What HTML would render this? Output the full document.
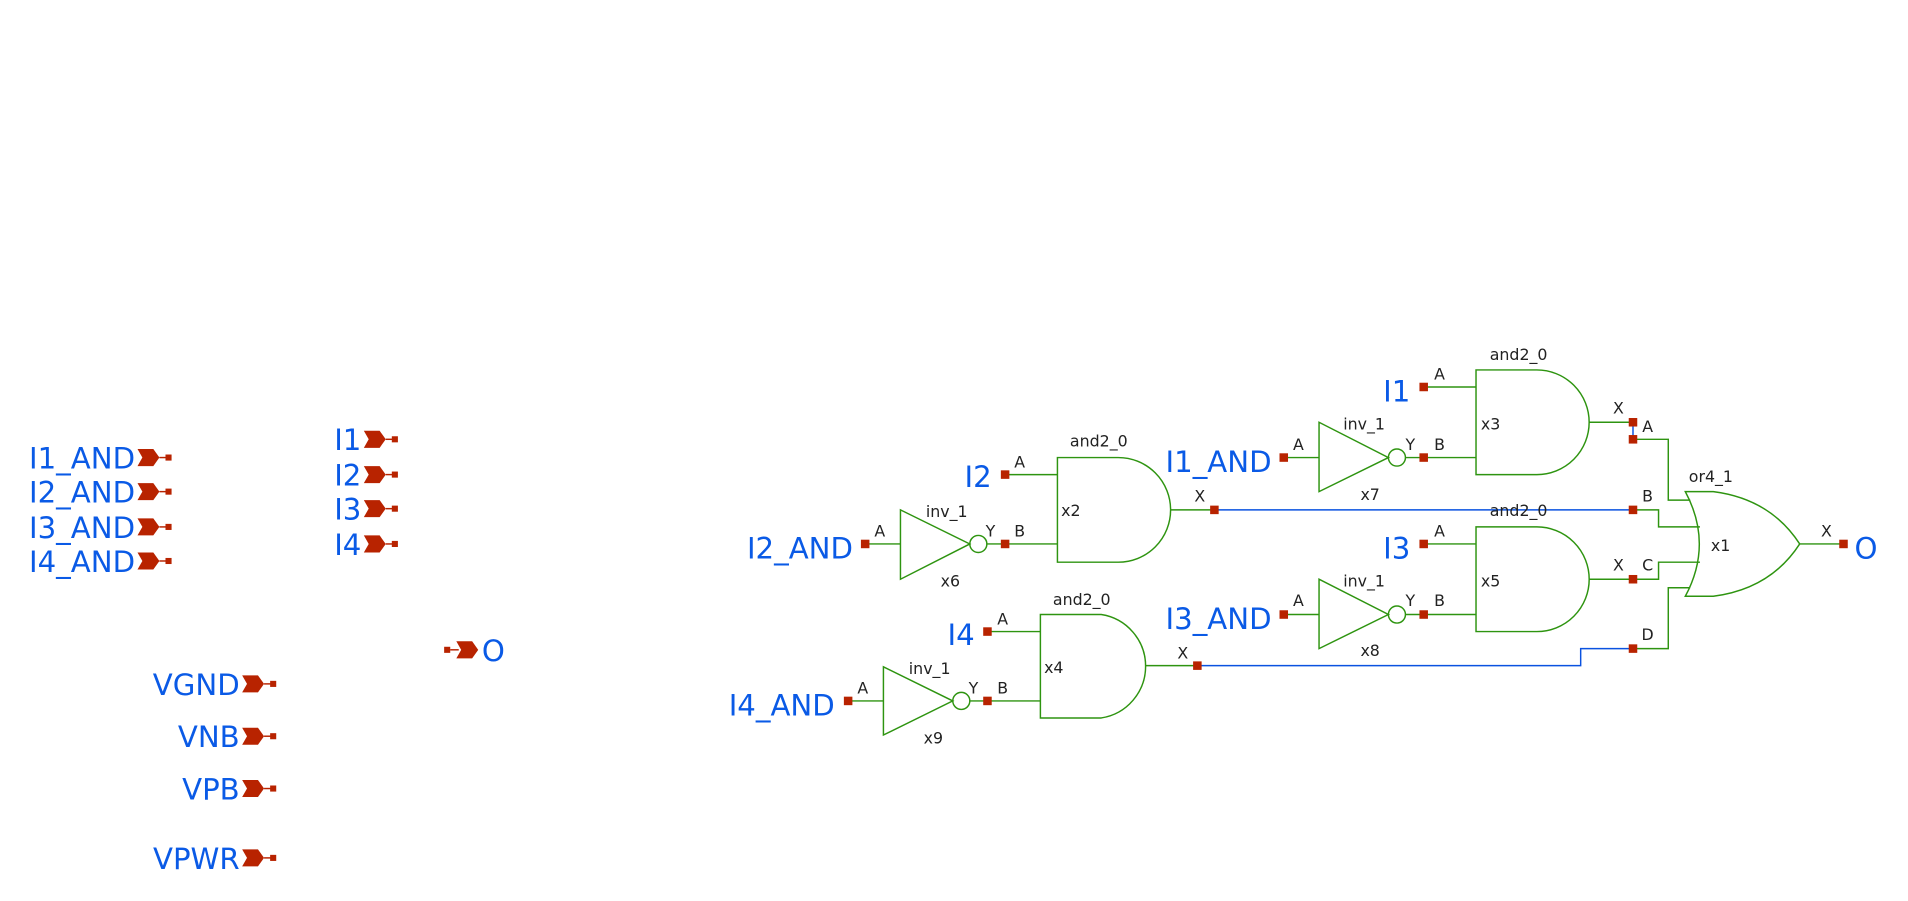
<!DOCTYPE html>
<html><head><meta charset="utf-8"><style>
html,body{margin:0;padding:0;background:#fff;}
svg{display:block;}
.g{stroke:#2e9410;stroke-width:1.2;fill:none;}
.w{stroke:#0a52e0;stroke-width:1.2;fill:none;}
.r{fill:#b82300;}
.rl{stroke:#b82300;stroke-width:1.2;}
.t{font-family:"DejaVu Sans","Liberation Sans",sans-serif;font-size:13px;fill:#222;}
.b{font-family:"DejaVu Sans","Liberation Sans",sans-serif;font-size:24px;fill:#0a5ae6;}
</style></head><body>
<svg width="1908" height="901" viewBox="0 0 1568 740.4" xmlns="http://www.w3.org/2000/svg">
<defs>
<g id="pinR"><polygon class="r" points="0,-7 13,-7 18,0 13,7 0,7 4,0"/><line class="rl" x1="18" y1="0" x2="24" y2="0"/><rect class="r" x="23" y="-2.5" width="5" height="5"/></g>
</defs>
<use href="#pinR" x="113" y="376"/><text class="b" x="111" y="385" text-anchor="end">I1_AND</text>
<use href="#pinR" x="113" y="404"/><text class="b" x="111" y="413" text-anchor="end">I2_AND</text>
<use href="#pinR" x="113" y="433"/><text class="b" x="111" y="442" text-anchor="end">I3_AND</text>
<use href="#pinR" x="113" y="461"/><text class="b" x="111" y="470" text-anchor="end">I4_AND</text>
<use href="#pinR" x="299" y="361"/><text class="b" x="297" y="370" text-anchor="end">I1</text>
<use href="#pinR" x="299" y="390"/><text class="b" x="297" y="399" text-anchor="end">I2</text>
<use href="#pinR" x="299" y="418"/><text class="b" x="297" y="427" text-anchor="end">I3</text>
<use href="#pinR" x="299" y="447"/><text class="b" x="297" y="456" text-anchor="end">I4</text>
<use href="#pinR" x="199" y="562"/><text class="b" x="197" y="571" text-anchor="end">VGND</text>
<use href="#pinR" x="199" y="605"/><text class="b" x="197" y="614" text-anchor="end">VNB</text>
<use href="#pinR" x="199" y="648"/><text class="b" x="197" y="657" text-anchor="end">VPB</text>
<use href="#pinR" x="199" y="705"/><text class="b" x="197" y="714" text-anchor="end">VPWR</text>
<rect class="r" x="365" y="531.5" width="5" height="5"/><line class="rl" x1="370" y1="534" x2="377" y2="534"/>
<polygon class="r" points="375,527 388,527 393,534 388,541 375,541 379,534"/>
<text class="b" x="396" y="543">O</text>

<line class="g" x1="711" y1="447" x2="740" y2="447"/>
<polygon class="g" points="740,419 740,476 797,447"/>
<circle class="g" cx="804" cy="447" r="7"/>
<line class="g" x1="811" y1="447" x2="869" y2="447"/>
<rect class="r" x="707.5" y="443.5" width="7" height="7"/>
<rect class="r" x="822.5" y="443.5" width="7" height="7"/>
<text class="b" x="701" y="459" text-anchor="end">I2_AND</text>
<text class="t" x="723" y="441" text-anchor="middle">A</text>
<text class="t" x="778" y="425" text-anchor="middle">inv_1</text>
<text class="t" x="781" y="482" text-anchor="middle">x6</text>
<text class="t" x="814" y="441" text-anchor="middle">Y</text>
<text class="t" x="838" y="441" text-anchor="middle">B</text>
<line class="g" x1="826" y1="390" x2="869" y2="390"/>
<path class="g" d="M869,376 H919 A43,43 0 0 1 919,462 H869 Z"/>
<line class="g" x1="962" y1="419" x2="998" y2="419"/>
<rect class="r" x="822.5" y="386.5" width="7" height="7"/>
<text class="b" x="815" y="400" text-anchor="end">I2</text>
<text class="t" x="838" y="384" text-anchor="middle">A</text>
<text class="t" x="903" y="367" text-anchor="middle">and2_0</text>
<text class="t" x="880" y="424" text-anchor="middle">x2</text>
<text class="t" x="986" y="412" text-anchor="middle">X</text>
<polyline class="w" points="998,419 1342,419"/>
<rect class="r" x="994.5" y="415.5" width="7" height="7"/>

<line class="g" x1="697" y1="576" x2="726" y2="576"/>
<polygon class="g" points="726,548 726,604 783,576"/>
<circle class="g" cx="790" cy="576" r="7"/>
<line class="g" x1="797" y1="576" x2="855" y2="576"/>
<rect class="r" x="693.5" y="572.5" width="7" height="7"/>
<rect class="r" x="808" y="572.5" width="7" height="7"/>
<text class="b" x="686" y="588" text-anchor="end">I4_AND</text>
<text class="t" x="709" y="570" text-anchor="middle">A</text>
<text class="t" x="764" y="554" text-anchor="middle">inv_1</text>
<text class="t" x="767" y="611" text-anchor="middle">x9</text>
<text class="t" x="800" y="570" text-anchor="middle">Y</text>
<text class="t" x="824" y="570" text-anchor="middle">B</text>
<line class="g" x1="811" y1="519" x2="855" y2="519"/>
<path class="g" d="M855,505 H905 A43,43 0 0 1 905,590 H855 Z"/>
<line class="g" x1="941" y1="547" x2="984" y2="547"/>
<rect class="r" x="808" y="515.5" width="7" height="7"/>
<text class="b" x="801" y="530" text-anchor="end">I4</text>
<text class="t" x="824" y="513" text-anchor="middle">A</text>
<text class="t" x="889" y="497" text-anchor="middle">and2_0</text>
<text class="t" x="866" y="553" text-anchor="middle">x4</text>
<text class="t" x="972" y="541" text-anchor="middle">X</text>
<polyline class="w" points="984,547 1299,547 1299,533 1342,533"/>
<rect class="r" x="980.5" y="543.5" width="7" height="7"/>

<line class="g" x1="1055" y1="376" x2="1084" y2="376"/>
<polygon class="g" points="1084,347 1084,404 1141,376"/>
<circle class="g" cx="1148" cy="376" r="7"/>
<line class="g" x1="1155" y1="376" x2="1213" y2="376"/>
<rect class="r" x="1051.5" y="372.5" width="7" height="7"/>
<rect class="r" x="1166.5" y="372.5" width="7" height="7"/>
<text class="b" x="1045" y="388" text-anchor="end">I1_AND</text>
<text class="t" x="1067" y="370" text-anchor="middle">A</text>
<text class="t" x="1121" y="353" text-anchor="middle">inv_1</text>
<text class="t" x="1126" y="411" text-anchor="middle">x7</text>
<text class="t" x="1159" y="370" text-anchor="middle">Y</text>
<text class="t" x="1183" y="370" text-anchor="middle">B</text>
<line class="g" x1="1170" y1="318" x2="1213" y2="318"/>
<path class="g" d="M1213,304 H1263 A43,43 0 0 1 1263,390 H1213 Z"/>
<line class="g" x1="1306" y1="347" x2="1342" y2="347"/>
<rect class="r" x="1166.5" y="314.5" width="7" height="7"/>
<text class="b" x="1159" y="330" text-anchor="end">I1</text>
<text class="t" x="1183" y="312" text-anchor="middle">A</text>
<text class="t" x="1248" y="296" text-anchor="middle">and2_0</text>
<text class="t" x="1225" y="353" text-anchor="middle">x3</text>
<text class="t" x="1330" y="340" text-anchor="middle">X</text>
<line class="w" x1="1342" y1="347" x2="1342" y2="361"/>
<rect class="r" x="1338.5" y="343.5" width="7" height="7"/>

<line class="g" x1="1055" y1="505" x2="1084" y2="505"/>
<polygon class="g" points="1084,476 1084,533 1141,505"/>
<circle class="g" cx="1148" cy="505" r="7"/>
<line class="g" x1="1155" y1="505" x2="1213" y2="505"/>
<rect class="r" x="1051.5" y="501.5" width="7" height="7"/>
<rect class="r" x="1166.5" y="501.5" width="7" height="7"/>
<text class="b" x="1045" y="517" text-anchor="end">I3_AND</text>
<text class="t" x="1067" y="498" text-anchor="middle">A</text>
<text class="t" x="1121" y="482" text-anchor="middle">inv_1</text>
<text class="t" x="1126" y="539" text-anchor="middle">x8</text>
<text class="t" x="1159" y="498" text-anchor="middle">Y</text>
<text class="t" x="1183" y="498" text-anchor="middle">B</text>
<line class="g" x1="1170" y1="447" x2="1213" y2="447"/>
<path class="g" d="M1213,433 H1263 A43,43 0 0 1 1263,519 H1213 Z"/>
<line class="g" x1="1306" y1="476" x2="1342" y2="476"/>
<rect class="r" x="1166.5" y="443.5" width="7" height="7"/>
<text class="b" x="1159" y="459" text-anchor="end">I3</text>
<text class="t" x="1183" y="441" text-anchor="middle">A</text>
<text class="t" x="1248" y="424" text-anchor="middle">and2_0</text>
<text class="t" x="1225" y="482" text-anchor="middle">x5</text>
<text class="t" x="1330" y="469" text-anchor="middle">X</text>

<polyline class="g" points="1342,361 1371,361 1371,411 1389,411"/>
<polyline class="g" points="1342,419 1363,419 1363,433 1397,433"/>
<polyline class="g" points="1342,476 1363,476 1363,462 1397,462"/>
<polyline class="g" points="1342,533 1371,533 1371,483 1389,483"/>
<path class="g" d="M1385,404 H1408 Q1455,410 1479,447 Q1455,484 1408,490 H1385 Q1408,447 1385,404 Z"/>
<line class="g" x1="1479" y1="447" x2="1515" y2="447"/>
<rect class="r" x="1338.5" y="357.5" width="7" height="7"/>
<rect class="r" x="1338.5" y="415.5" width="7" height="7"/>
<rect class="r" x="1338.5" y="472.5" width="7" height="7"/>
<rect class="r" x="1338.5" y="529.5" width="7" height="7"/>
<rect class="r" x="1511.5" y="443.5" width="7" height="7"/>
<text class="t" x="1354" y="355" text-anchor="middle">A</text>
<text class="t" x="1354" y="412" text-anchor="middle">B</text>
<text class="t" x="1354" y="469" text-anchor="middle">C</text>
<text class="t" x="1354" y="526" text-anchor="middle">D</text>
<text class="t" x="1406" y="396" text-anchor="middle">or4_1</text>
<text class="t" x="1414" y="453" text-anchor="middle">x1</text>
<text class="t" x="1501" y="441" text-anchor="middle">X</text>
<text class="b" x="1524" y="459">O</text>
</svg>
</body></html>
